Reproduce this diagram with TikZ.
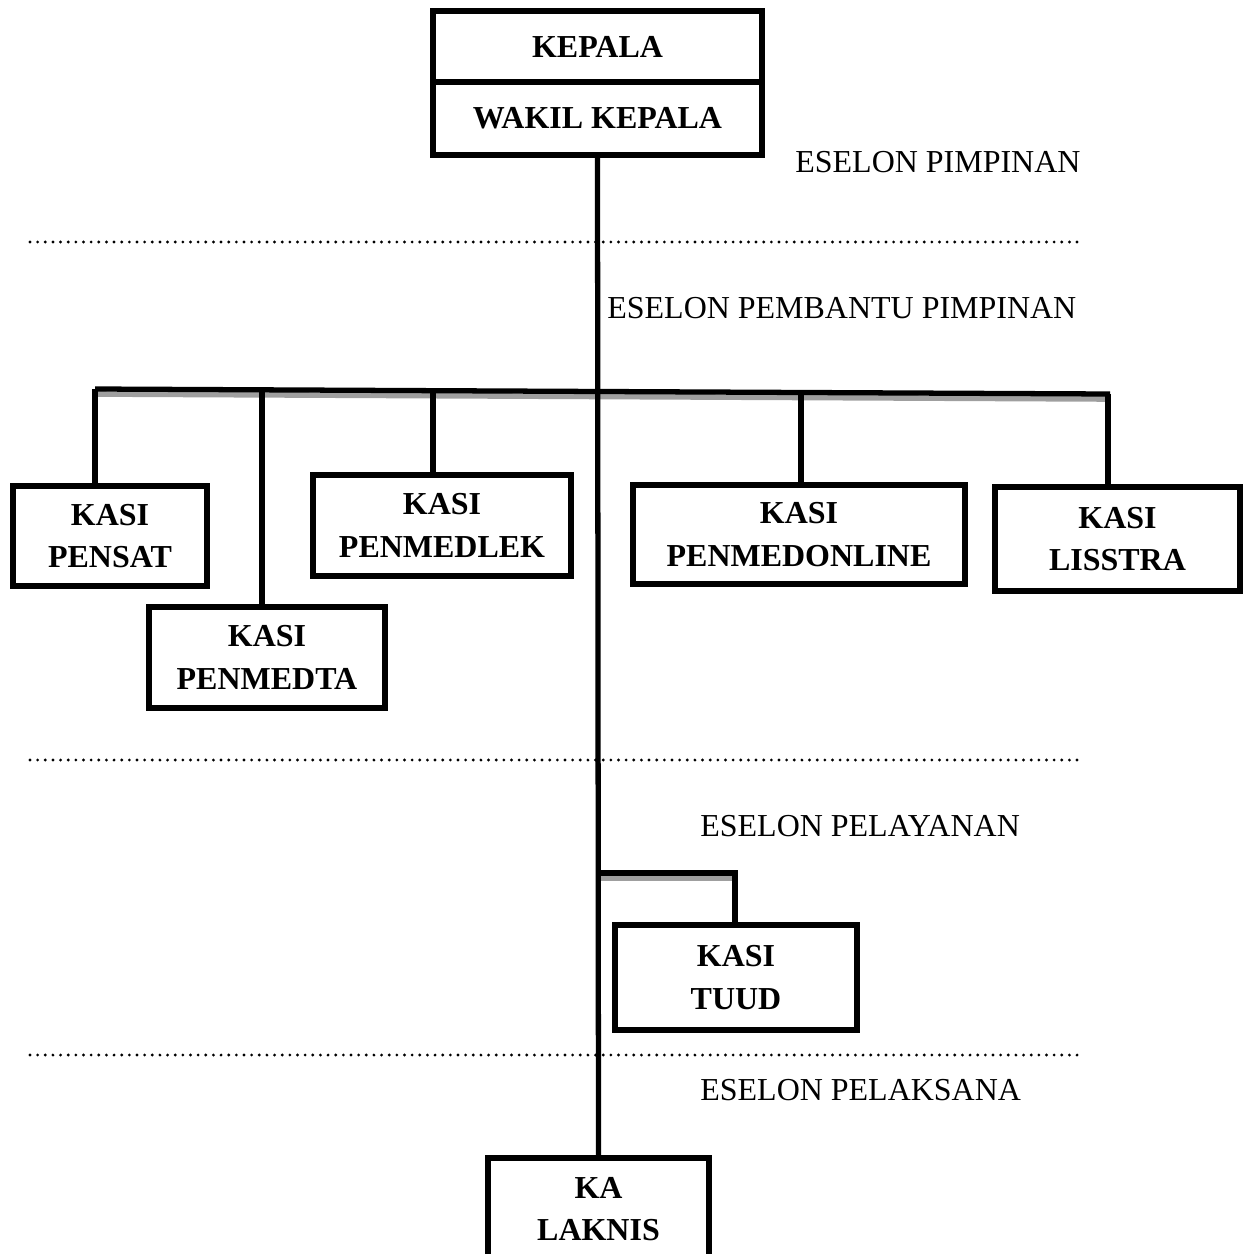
\documentclass[tikz,border=0pt]{standalone}
\usepackage{fontspec}
\setmainfont{Liberation Serif}
\usetikzlibrary{calc, positioning}

\begin{document}
\begin{tikzpicture}[
    x=0.02cm, y=-0.02cm,
    box/.style={draw, line width=3pt, align=center, inner sep=0pt, outer sep=0pt,
        font=\fontsize{18.2}{24}\selectfont\bfseries},
    link/.style={line width=3pt, black},
    shadow/.style={line width=3.2pt, gray!75},
    level/.style={anchor=west, inner sep=0pt, font=\fontsize{18.2}{22}\selectfont},
    sep/.style={line width=1.8pt, line cap=round, dash pattern=on 0pt off 4.35pt}
]
    \useasboundingbox (0,0) rectangle (1248,1254);
    \clip (0,0) rectangle (1248,1254);

    % Pimpinan
    \node[box, minimum width=6.58cm, minimum height=1.42cm] (kepala) at (597.5,46.5) {KEPALA};
    \node[box, minimum width=6.58cm, minimum height=1.46cm, below=0pt of kepala] (wakil) {WAKIL KEPALA};

    % Kotak kasi
    \node[box, minimum width=3.88cm, minimum height=2cm] (pensat) at (110,536) {KASI\\PENSAT};
    \node[box, minimum width=4.72cm, minimum height=2.02cm] (penmedta) at (267,657.5) {KASI\\PENMEDTA};
    \node[box, minimum width=5.16cm, minimum height=2.02cm] (penmedlek) at (442,525.5) {KASI\\PENMEDLEK};
    \node[box, minimum width=6.64cm, minimum height=1.98cm] (penmedonline) at (799,534.5) {KASI\\PENMEDONLINE};
    \node[box, minimum width=4.9cm, minimum height=2.08cm] (lisstra) at (1117.5,539) {KASI\\LISSTRA};
    \node[box, minimum width=4.84cm, minimum height=2.1cm] (tuud) at (736,977.5) {KASI\\TUUD};
    \node[box, minimum width=4.42cm, minimum height=2.04cm] (laknis) at (598.5,1209) {KA\\LAKNIS};

    % Titik cabang
    \coordinate (barL) at (95,389);
    \coordinate (barR) at (1110,394);
    \coordinate (b1) at (95,389);
    \coordinate (b2) at (262,389.5);
    \coordinate (b3) at (433,390);
    \coordinate (b4) at (801,392);
    \coordinate (b5) at (1108,394);
    \coordinate (t0) at (597,873);
    \coordinate (t1) at (735,873);

    % Bayangan garis mendatar
    \draw[shadow] ($(barL)+(0,5)$) -- ($(barR)+(0,5)$);
    \draw[shadow] ($(t0)+(0,5)$) -- ($(t1)+(0,5)$);

    % Garis hubung
    \draw[link] (wakil.south) -- (laknis.north);
    \draw[link] (barL) -- (barR);
    \draw[link] (b1) -- (b1 |- pensat.north);
    \draw[link] (b2) -- (b2 |- penmedta.north);
    \draw[link] (b3) -- (b3 |- penmedlek.north);
    \draw[link] (b4) -- (b4 |- penmedonline.north);
    \draw[link] (b5) -- (b5 |- lisstra.north);
    \draw[link] (t0) -- (t1) -- (t1 |- tuud.north);

    % Batas eselon
    \foreach \y in {242, 760, 1055}
        \draw[sep] (30,\y) -- (1082,\y);

    \node[level] (esPimpinan) at (795,162) {ESELON PIMPINAN};
    \node[level] (esPembantu) at (607,308) {ESELON PEMBANTU PIMPINAN};
    \node[level] (esPelayanan) at (700,826) {ESELON PELAYANAN};
    \node[level] (esPelaksana) at (700,1090) {ESELON PELAKSANA};

\end{tikzpicture}
\end{document}
